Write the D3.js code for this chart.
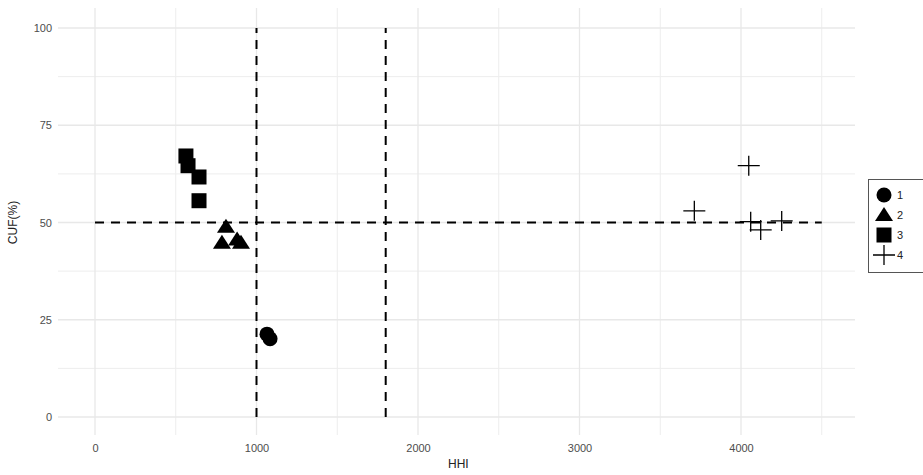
<!DOCTYPE html>
<html>
<head>
<meta charset="utf-8">
<script src="https://cdn.jsdelivr.net/npm/d3@7"></script>
<style>
  body { margin: 0; background: #fff; }
  svg { display: block; font-family: "Liberation Sans", Arial, sans-serif; }
</style>
</head>
<body>
<div id="chart"></div>
<script>
const W = 923, H = 475;
const panel = {left: 58, right: 855, top: 8, bottom: 435};

// data
const groups = ["1", "2", "3", "4"];
const hhi_1 = [1065, 1084];
const cuf_1 = [21.3, 20.1];
const hhi_2 = [811, 786, 904, 880];
const cuf_2 = [48.9, 44.8, 44.8, 45.6];
const hhi_3 = [563, 576, 644, 644];
const cuf_3 = [67.1, 64.6, 61.7, 55.6];
const hhi_4 = [4048, 3711, 4060, 4122, 4252];
const cuf_4 = [64.6, 53.0, 50.2, 48.1, 50.4];
const xTicks = [0, 1000, 2000, 3000, 4000];
const yTicks = [0, 25, 50, 75, 100];
const hLine = {y: 50, x0: 0, x1: 4500};
const vLines = [1000, 1800];

const hhiBy = [hhi_1, hhi_2, hhi_3, hhi_4];
const cufBy = [cuf_1, cuf_2, cuf_3, cuf_4];
const points = groups.flatMap((g, i) => hhiBy[i].map((h, j) => ({group: g, hhi: h, cuf: cufBy[i][j]})));

const svg = d3.select("#chart").append("svg").attr("width", W).attr("height", H);

const x = d3.scaleLinear().domain([0, 4000]).range([95, 741]);
const y = d3.scaleLinear().domain([0, 100]).range([417, 28]);

const grid = svg.append("g");
const minorX = d3.range(500, 4600, 1000);
const minorY = d3.range(12.5, 100, 25);
grid.selectAll(".mx").data(minorX).join("line")
  .attr("x1", d => x(d)).attr("x2", d => x(d))
  .attr("y1", panel.bottom).attr("y2", panel.top)
  .attr("stroke", "#ededed").attr("stroke-width", 1);
grid.selectAll(".my").data(minorY).join("line")
  .attr("y1", d => y(d)).attr("y2", d => y(d))
  .attr("x1", panel.left).attr("x2", panel.right)
  .attr("stroke", "#ededed").attr("stroke-width", 1);
grid.selectAll(".gx").data(xTicks).join("line")
  .attr("x1", d => x(d)).attr("x2", d => x(d))
  .attr("y1", panel.bottom).attr("y2", panel.top)
  .attr("stroke", "#e8e8e8").attr("stroke-width", 1.3);
grid.selectAll(".gy").data(yTicks).join("line")
  .attr("y1", d => y(d)).attr("y2", d => y(d))
  .attr("x1", panel.left).attr("x2", panel.right)
  .attr("stroke", "#e8e8e8").attr("stroke-width", 1.3);

// axes (labels only, like theme_minimal)
const xAxis = svg.append("g").attr("transform", `translate(0,${panel.bottom})`)
  .call(d3.axisBottom(x).tickValues(xTicks).tickFormat(d3.format("d")).tickSize(0).tickPadding(9));
const yAxis = svg.append("g").attr("transform", `translate(${panel.left},0)`)
  .call(d3.axisLeft(y).tickValues(yTicks).tickFormat(d3.format("d")).tickSize(0).tickPadding(6));
[xAxis, yAxis].forEach(a => {
  a.select(".domain").remove();
  a.selectAll("text").style("fill", "#4d4d4d").attr("font-size", "11px")
    .attr("font-family", "Liberation Sans, Arial, sans-serif");
});

svg.append("text").attr("x", x(2250)).attr("y", H - 7)
  .attr("text-anchor", "middle").attr("font-size", "12px").attr("fill", "#222").text("HHI");
svg.append("text").attr("transform", `translate(17,${y(50)}) rotate(-90)`)
  .attr("text-anchor", "middle").attr("font-size", "12px").attr("fill", "#222").text("CUF(%)");

// reference lines
svg.append("line")
  .attr("x1", x(hLine.x0)).attr("x2", x(hLine.x1))
  .attr("y1", y(hLine.y)).attr("y2", y(hLine.y))
  .attr("stroke", "#000").attr("stroke-width", 2).attr("stroke-dasharray", "9,7");
svg.selectAll(".vl").data(vLines).join("line")
  .attr("x1", d => x(d)).attr("x2", d => x(d))
  .attr("y1", y(0)).attr("y2", y(100))
  .attr("stroke", "#000").attr("stroke-width", 2).attr("stroke-dasharray", "9,7");

// markers
function shape(g, sel) {
  if (g === "1") return sel.append("circle").attr("r", 7.5).attr("fill", "#000");
  if (g === "2") return sel.append("path").attr("d", "M0,-8L9,6L-9,6Z").attr("fill", "#000");
  if (g === "3") return sel.append("rect").attr("x", -7.5).attr("y", -7.5).attr("width", 15).attr("height", 15).attr("fill", "#000");
  return sel.append("path").attr("d", "M-11,0H11M0,-10V10").attr("stroke", "#000").attr("stroke-width", 1.3).attr("fill", "none");
}

svg.append("g").selectAll("g").data(points).join("g")
  .attr("transform", d => `translate(${x(d.hhi)},${y(d.cuf)})`)
  .each(function(d) { shape(d.group, d3.select(this)); });

// legend
const leg = svg.append("g").attr("transform", "translate(868,179)");
leg.append("rect").attr("x", 0.5).attr("y", 0.5).attr("width", 60).attr("height", 93)
  .attr("fill", "#fff").attr("stroke", "#555").attr("stroke-width", 1);
groups.forEach((g, i) => {
  const item = leg.append("g").attr("transform", `translate(16,${16 + i * 20})`);
  shape(g, item);
  item.append("text").attr("x", 13).attr("y", 4).attr("font-size", "11px").attr("fill", "#222").text(g);
});
</script>
</body>
</html>
